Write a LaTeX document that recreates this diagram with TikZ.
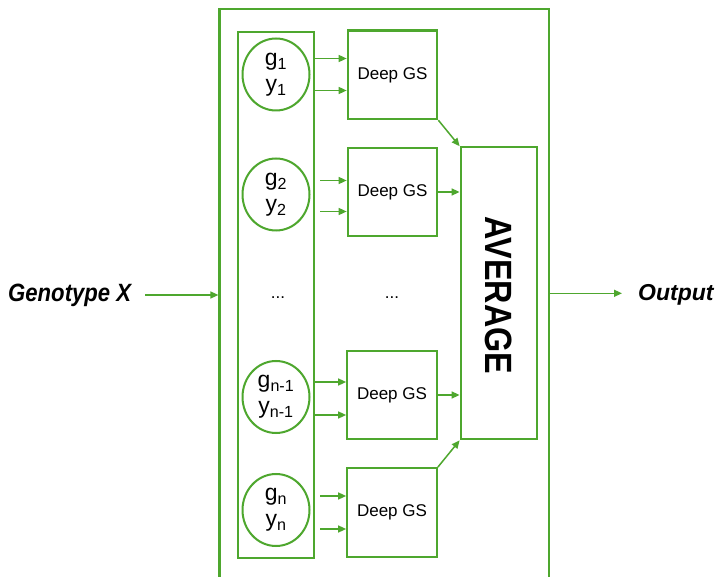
\documentclass[tikz,border=0pt]{standalone}
\usepackage{fontspec}
\setmainfont{Liberation Sans}
\usetikzlibrary{arrows.meta,calc,shapes.geometric}
\definecolor{gr}{HTML}{4EA72E}
\begin{document}
\begin{tikzpicture}[x=1pt,y=-1pt,
  box/.style={draw=gr,line width=2.2pt,rectangle,inner sep=0pt},
  circ/.style={draw=gr,line width=2pt,ellipse,minimum width=67pt,minimum height=72pt,inner sep=0pt,align=center,font=\fontsize{23}{26}\selectfont},
  deep/.style={box,minimum width=89.5pt,minimum height=88.5pt,font=\fontsize{17}{20}\selectfont},
  arr/.style={draw=gr,line width=1.5pt,-{Triangle[length=8pt,width=7pt]}},
  dots/.style={anchor=base,font=\fontsize{17}{18}\selectfont}]
\useasboundingbox (0,0) rectangle (715,577);
\clip (0,0) rectangle (715,577);
\fill[white] (0,0) rectangle (715,577);
% outer box (bottom beyond the picture)
\node[box,minimum width=329.5pt,minimum height=590.7pt] (outer) at (384.25,304.65) {};
% column
\node[box,minimum width=76pt,minimum height=525.7pt] (col) at (276,294.85) {};
% circles
\node[circ] (c1) at (276,74.5) {g\textsubscript{1}\\y\textsubscript{1}};
\node[circ] (c2) at (276,194.5) {g\textsubscript{2}\\y\textsubscript{2}};
\node[circ] (c3) at (276,397) {g\textsubscript{n-1}\\y\textsubscript{n-1}};
\node[circ] (c4) at (276,510) {g\textsubscript{n}\\y\textsubscript{n}};
% deep GS boxes
\node[deep] (d1) at (392.5,74.85) {Deep GS};
\node[deep] (d2) at (392.5,192) {Deep GS};
\node[deep] (d3) at (392,395) {Deep GS};
\node[deep] (d4) at (392,512.5) {Deep GS};
% average
\node[box,minimum width=76.6pt,minimum height=292pt] (avg) at (499,293.3) {};
\node[rotate=-90,inner sep=0pt,font=\fontsize{38}{38}\selectfont\bfseries] (avgt) at (498.3,295.5) {\scalebox{0.85}[1]{AVERAGE}};
% dots
\node[dots] (e1) at (278,298.5) {...};
\node[dots] (e2) at (392,298.5) {...};
% labels
\node[anchor=base west,inner sep=0pt,font=\fontsize{25}{28}\selectfont\bfseries\itshape] (gen) at (8,302) {\scalebox{0.885}[1]{Genotype X}};
\node[anchor=base west,inner sep=0pt,font=\fontsize{23}{26}\selectfont\bfseries\itshape] (out) at (638,301) {Output};
\coordinate (ga) at (145,295);
\coordinate (oa) at (622,293.3);
% arrows
\draw[arr] (ga) -- (ga -| outer.west);
\draw[arr] (oa -| outer.east) -- (oa);
% column to boxes
\draw[arr] ($(c1.center -| col.east)+(0,-16)$) -- ($(c1.center -| d1.west)+(0,-16)$);
\draw[arr] ($(c1.center -| col.east)+(0,16)$) -- ($(c1.center -| d1.west)+(0,16)$);
\draw[arr] ($(c2.center -| col.east)+(5,-14)$) -- ($(c2.center -| d2.west)+(0,-14)$);
\draw[arr] ($(c2.center -| col.east)+(5,17)$) -- ($(c2.center -| d2.west)+(0,17)$);
\draw[arr] ($(c3.center -| col.east)+(0,-15)$) -- ($(c3.center -| d3.west)+(0,-15)$);
\draw[arr] ($(c3.center -| col.east)+(0,18)$) -- ($(c3.center -| d3.west)+(0,18)$);
\draw[arr] ($(c4.center -| col.east)+(5,-14)$) -- ($(c4.center -| d4.west)+(0,-14)$);
\draw[arr] ($(c4.center -| col.east)+(5,19)$) -- ($(c4.center -| d4.west)+(0,19)$);
% boxes to average
\draw[arr] (d1.south east) -- (avg.north west);
\draw[arr] (d2.east) -- (d2.east -| avg.west);
\draw[arr] (d3.east) -- (d3.east -| avg.west);
\draw[arr] (d4.north east) -- (avg.south west);
\end{tikzpicture}
\end{document}
